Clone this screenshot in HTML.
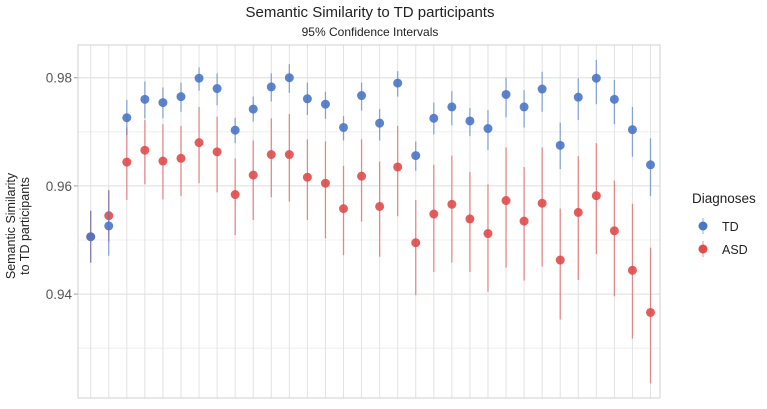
<!DOCTYPE html>
<html><head><meta charset="utf-8"><style>
body{margin:0;background:#fff;width:767px;height:404px;overflow:hidden;font-family:"Liberation Sans",sans-serif}
svg text{font-family:"Liberation Sans",sans-serif}
</style></head><body>
<svg id="chart" width="767" height="404">
<text x="370" y="17" text-anchor="middle" font-size="15" fill="#222">Semantic Similarity to TD participants</text>
<text x="370" y="36" text-anchor="middle" font-size="12" fill="#222">95% Confidence Intervals</text>
<g id="grid"></g><g id="marks"></g>
<text transform="translate(15,226) rotate(-90)" text-anchor="middle" font-size="12.5" fill="#222"><tspan x="0" y="0">Semantic Similarity</tspan><tspan x="0" y="14">to TD participants</tspan></text>
<text x="692" y="203" font-size="13.5" fill="#222">Diagnoses</text>
<g><line x1="703" y1="218" x2="703" y2="234" stroke="#4a76c6" stroke-opacity="0.6"/><circle cx="703" cy="226" r="4.5" fill="#4a76c6"/><text x="722" y="231" font-size="12.5" fill="#222">TD</text></g>
<g><line x1="703" y1="241" x2="703" y2="257" stroke="#e04b4b" stroke-opacity="0.6"/><circle cx="703" cy="249" r="4.5" fill="#e04b4b"/><text x="722" y="254" font-size="12.5" fill="#222">ASD</text></g>
</svg>
<script>
const tdMean=[0.9506,0.9526,0.9726,0.9760,0.9754,0.9765,0.9799,0.9780,0.9703,0.9742,0.9783,0.9800,0.9761,0.9751,0.9708,0.9767,0.9716,0.9790,0.9656,0.9725,0.9746,0.9720,0.9706,0.9769,0.9746,0.9779,0.9675,0.9764,0.9799,0.9760,0.9704,0.9639];
const tdHi=[0.9554,0.9592,0.9759,0.9793,0.9782,0.9791,0.9819,0.9808,0.9726,0.9765,0.9808,0.9825,0.9791,0.9774,0.9729,0.9791,0.9742,0.9812,0.9682,0.9754,0.9775,0.9744,0.9740,0.9800,0.9777,0.9811,0.9717,0.9799,0.9833,0.9796,0.9746,0.9688];
const tdLo=[0.9458,0.9471,0.9694,0.9725,0.9725,0.9737,0.9776,0.9749,0.9679,0.9719,0.9756,0.9772,0.9731,0.9724,0.9684,0.9739,0.9684,0.9765,0.9628,0.9695,0.9712,0.9692,0.9666,0.9727,0.9708,0.9737,0.9631,0.9722,0.9751,0.9714,0.9654,0.9581];
const asdMean=[0.9506,0.9545,0.9644,0.9666,0.9646,0.9651,0.9680,0.9663,0.9584,0.9620,0.9658,0.9658,0.9616,0.9605,0.9558,0.9618,0.9562,0.9635,0.9495,0.9548,0.9566,0.9539,0.9512,0.9573,0.9535,0.9568,0.9463,0.9551,0.9582,0.9517,0.9444,0.9366];
const asdHi=[0.9554,0.9592,0.9708,0.9722,0.9714,0.9711,0.9746,0.9728,0.9651,0.9684,0.9725,0.9733,0.9686,0.9682,0.9637,0.9686,0.9645,0.9711,0.9574,0.9639,0.9656,0.9626,0.9603,0.9671,0.9635,0.9671,0.9558,0.9655,0.9679,0.9610,0.9567,0.9486];
const asdLo=[0.9458,0.9497,0.9574,0.9603,0.9575,0.9581,0.9605,0.9588,0.9509,0.9537,0.9579,0.9571,0.9537,0.9503,0.9472,0.9534,0.9469,0.9544,0.9398,0.9441,0.9458,0.9441,0.9404,0.9449,0.9425,0.9451,0.9353,0.9426,0.9474,0.9396,0.9318,0.9235];
const majorTicks=[0.98,0.96,0.94];
const minorTicks=[0.97,0.95,0.93];
const tickLabels=["0.98","0.96","0.94"];
const L=78,R=660,T=45,B=398;
const y=v=>77.7+(0.98-v)*5410;
const x=i=>90.7+i*(650.5-90.7)/(tdMean.length-1);
const NS="http://www.w3.org/2000/svg";
const g=document.getElementById('grid'),m=document.getElementById('marks'),svg=document.getElementById('chart');
function mk(t,a,p){const e=document.createElementNS(NS,t);for(const k in a)e.setAttribute(k,a[k]);p.appendChild(e);return e;}
minorTicks.forEach(v=>{const e=mk('line',{x1:L,x2:R,y1:y(v),y2:y(v),stroke:'#ececec','stroke-width':0.8},g);

});
majorTicks.forEach((v,i)=>{const e=mk('line',{x1:L,x2:R,y1:y(v),y2:y(v),stroke:'#dedede','stroke-width':1},g);


const tk=mk('line',{x1:L-4,x2:L,y1:y(v),y2:y(v),stroke:'#999'},g);


const t=mk('text',{x:L-6,y:y(v)+5,'text-anchor':'end','font-size':13.5,fill:'#555'},svg);t.textContent=tickLabels[i];

});
tdMean.forEach((_,i)=>{const e=mk('line',{x1:x(i),x2:x(i),y1:T,y2:B,stroke:'#e2e2e2','stroke-width':1},g);

});
const p=mk('rect',{x:L,y:T,width:R-L,height:B-T,fill:'none',stroke:'#d0d0d0'},g);


function series(mean,lo,hi,col,name){mean.forEach((v,i)=>{
const l=mk('line',{x1:x(i),x2:x(i),y1:y(hi[i]),y2:y(lo[i]),stroke:col,'stroke-opacity':0.6,'stroke-width':1.3},m);


const c=mk('circle',{cx:x(i),cy:y(v),r:4.5,fill:col,'fill-opacity':0.9},m);

});}
series(asdMean,asdLo,asdHi,'#e04b4b','asd');
series(tdMean,tdLo,tdHi,'#4a76c6','td');
</script>
</body></html>
